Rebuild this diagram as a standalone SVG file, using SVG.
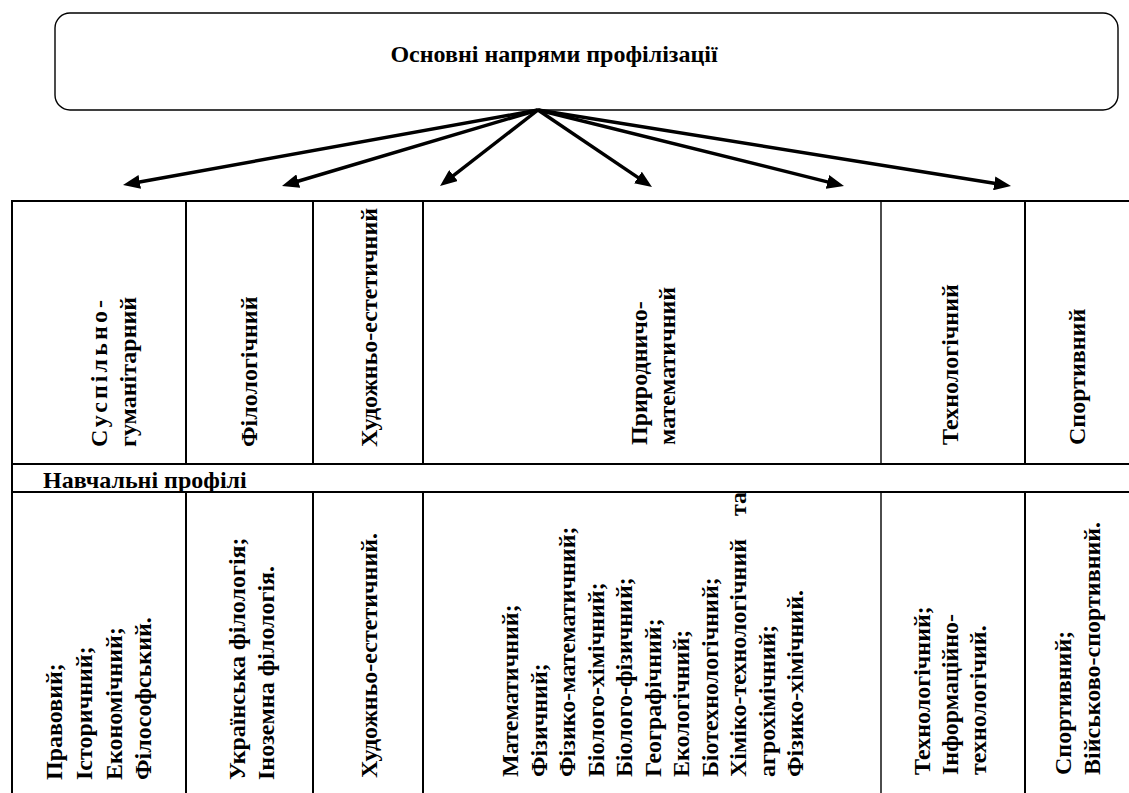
<svg xmlns="http://www.w3.org/2000/svg" width="1129" height="793" viewBox="0 0 1129 793">
<style>
text{font-family:"Liberation Serif","Times New Roman",serif;font-weight:bold;fill:#000;font-size:24px}
.tl{stroke:#000;stroke-width:2;fill:none}
.thin{stroke:#000;stroke-width:1.4;fill:none}
.arr{stroke:#000;stroke-width:3.4;fill:none;marker-end:url(#ah)}
</style>
<defs>
<marker id="ah" markerUnits="userSpaceOnUse" markerWidth="18" markerHeight="14" refX="3" refY="7" orient="auto">
<path d="M0,0 L17,7 L0,14 z" fill="#000"/>
</marker>
</defs>
<rect width="1129" height="793" fill="#fff"/>

<g id="root">
<rect x="55" y="13" width="1063" height="97" rx="15" ry="15" fill="#fff" stroke="#000" stroke-width="1.4"/>
<text x="554" y="62" text-anchor="middle">Основні напрями профілізації</text>
</g>

<g id="connectors">
<line class="arr" x1="538" y1="110" x2="136.8" y2="182.5"/>
<line class="arr" x1="538" y1="110" x2="295.4" y2="182"/>
<line class="arr" x1="538" y1="110" x2="451.1" y2="177.4"/>
<line class="arr" x1="538" y1="110" x2="640.4" y2="179.2"/>
<line class="arr" x1="538" y1="110" x2="830.4" y2="182.6"/>
<line class="arr" x1="538" y1="110" x2="997.2" y2="183.8"/>
</g>

<g id="table">
<line class="tl" x1="11" y1="201" x2="1129" y2="201"/>
<line class="tl" x1="11" y1="464" x2="1129" y2="464"/>
<line class="tl" x1="11" y1="492" x2="1129" y2="492"/>
<line class="tl" x1="12" y1="200" x2="12" y2="793"/>
<line class="tl" x1="186" y1="201" x2="186" y2="464"/>
<line class="tl" x1="313" y1="201" x2="313" y2="464"/>
<line class="tl" x1="423" y1="201" x2="423" y2="464"/>
<line class="thin" x1="881" y1="201" x2="881" y2="464"/>
<line class="tl" x1="1025" y1="201" x2="1025" y2="464"/>
<line class="tl" x1="186" y1="492" x2="186" y2="793"/>
<line class="tl" x1="313" y1="492" x2="313" y2="793"/>
<line class="tl" x1="423" y1="492" x2="423" y2="793"/>
<line class="thin" x1="881" y1="492" x2="881" y2="793"/>
<line class="tl" x1="1025" y1="492" x2="1025" y2="793"/>
</g>

<g id="h-suspilno">
<text transform="translate(107,447) rotate(-90)" textLength="147" lengthAdjust="spacing">Суспільно-</text>
<text transform="translate(136,447) rotate(-90)">гуманітарний</text>
</g>
<g id="h-filol">
<text transform="translate(257,447) rotate(-90)">Філологічний</text>
</g>
<g id="h-khud">
<text transform="translate(377,447) rotate(-90)">Художньо-естетичний</text>
</g>
<g id="h-pryrod">
<text transform="translate(647,445) rotate(-90)">Природничо-</text>
<text transform="translate(675,445) rotate(-90)">математичний</text>
</g>
<g id="h-tekh">
<text transform="translate(958,445) rotate(-90)">Технологічний</text>
</g>
<g id="h-sport">
<text transform="translate(1085,445) rotate(-90)">Спортивний</text>
</g>

<g id="row-label">
<text x="43" y="488">Навчальні профілі</text>
</g>

<g id="b-suspilno">
<text transform="translate(62,780) rotate(-90)">Правовий;</text>
<text transform="translate(92,780) rotate(-90)">Історичний;</text>
<text transform="translate(122,780) rotate(-90)">Економічний;</text>
<text transform="translate(151,780) rotate(-90)">Філософський.</text>
</g>
<g id="b-filol">
<text transform="translate(245,780) rotate(-90)">Українська філологія;</text>
<text transform="translate(274,780) rotate(-90)">Іноземна філологія.</text>
</g>
<g id="b-khud">
<text transform="translate(377,778) rotate(-90)">Художньо-естетичний.</text>
</g>
<g id="b-pryrod">
<text transform="translate(518,777) rotate(-90)">Математичний;</text>
<text transform="translate(546.5,777) rotate(-90)">Фізичний;</text>
<text transform="translate(575,777) rotate(-90)">Фізико-математичний;</text>
<text transform="translate(603.5,777) rotate(-90)">Біолого-хімічний;</text>
<text transform="translate(632,777) rotate(-90)">Біолого-фізичний;</text>
<text transform="translate(660.5,777) rotate(-90)">Географічний;</text>
<text transform="translate(689,777) rotate(-90)">Екологічний;</text>
<text transform="translate(717.5,777) rotate(-90)">Біотехнологічний;</text>
<text transform="translate(746,777) rotate(-90)">Хіміко-технологічний</text>
<text transform="translate(746,516) rotate(-90)">та</text>
<text transform="translate(774.5,777) rotate(-90)">агрохімічний;</text>
<text transform="translate(803,777) rotate(-90)">Фізико-хімічний.</text>
</g>
<g id="b-tekh">
<text transform="translate(930,775) rotate(-90)">Технологічний;</text>
<text transform="translate(958,775) rotate(-90)">Інформаційно-</text>
<text transform="translate(986,775) rotate(-90)">технологічий.</text>
</g>
<g id="b-sport">
<text transform="translate(1071,775) rotate(-90)">Спортивний;</text>
<text transform="translate(1100,775) rotate(-90)">Військово-спортивний.</text>
</g>
</svg>
